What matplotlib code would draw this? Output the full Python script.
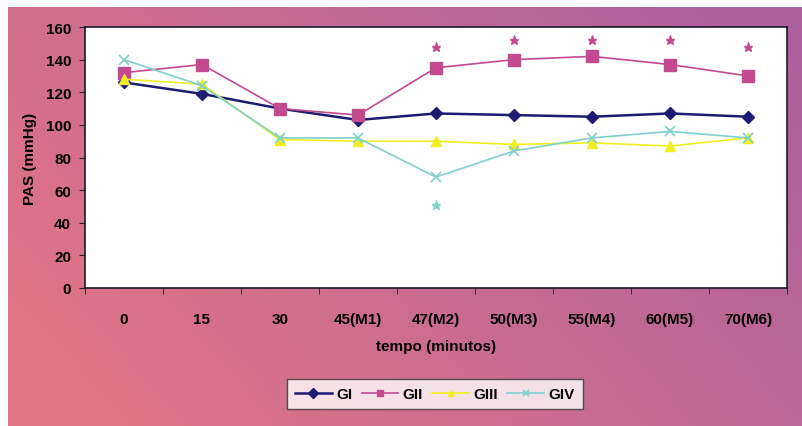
import numpy as np
import matplotlib
matplotlib.use("Agg")
import matplotlib.pyplot as plt
from matplotlib.ticker import FixedLocator

plt.rcParams['font.family'] = ['Liberation Sans', 'DejaVu Sans']
plt.rcParams['font.weight'] = 'bold'

# dados
tempos = ["0", "15", "30", "45(M1)", "47(M2)", "50(M3)", "55(M4)", "60(M5)", "70(M6)"]
GI = [126, 119, 110, 103, 107, 106, 105, 107, 105]
GII = [132, 137, 110, 106, 135, 140, 142, 137, 130]
GIII = [128, 125, 91, 90, 90, 88, 89, 87, 92]
GIV = [140, 124, 92, 92, 68, 84, 92, 96, 92]

# asteriscos de significancia (indice do tempo, altura)
ast_GII_idx = [4, 5, 6, 7, 8]
ast_GII_val = [148, 152, 152, 152, 148]
ast_GIV_idx = [4]
ast_GIV_val = [51]

c_GI = "#1c1c72"
c_GII = "#c44a90"
c_GIII = "#eeee22"
c_GIV = "#7fd0cc"

fig = plt.figure(figsize=(8.03, 4.27), dpi=100)

# fundo em degrade rosa -> lilas
bg = fig.add_axes([8/803, 0, 1 - 8/803, 1 - 8/427], zorder=-10)
gx, gy = np.meshgrid(np.linspace(0, 1, 200), np.linspace(0, 1, 100))
t = np.clip(0.75*gx + 0.35*(1 - gy) - 0.05, 0, 1)
c0 = np.array([0.89, 0.46, 0.52])
c1 = np.array([0.68, 0.38, 0.62])
img = c0[None, None, :]*(1 - t[..., None]) + c1[None, None, :]*t[..., None]
bg.imshow(img, aspect='auto', extent=[0, 1, 0, 1], origin='upper')
bg.axis('off')

ax = fig.add_axes([85/803, 1 - 289/427, 702/803, 261/427])
ax.set_facecolor("white")
x = np.arange(len(tempos))

ax.plot(x, GI, color=c_GI, marker='D', ms=6.5, lw=1.8, label="GI")
ax.plot(x, GII, color=c_GII, marker='s', ms=8, lw=1.2, label="GII")
ax.plot(x, GIII, color=c_GIII, marker='^', ms=7.5, lw=1.2, label="GIII")
ax.plot(x, GIV, color=c_GIV, marker='x', ms=7.5, mew=1.2, lw=1.2, label="GIV")

ax.plot(ast_GII_idx, ast_GII_val, ls='none', marker='*', ms=6.5, color=c_GII)
ax.plot(ast_GIV_idx, ast_GIV_val, ls='none', marker='*', ms=6.5, color=c_GIV)

ax.set_xlim(-0.5, len(tempos) - 0.5)
ax.set_ylim(0, 160)
ax.set_yticks(np.arange(0, 161, 20))
ax.set_xticks(x)
ax.set_xticklabels(tempos)
ax.xaxis.set_minor_locator(FixedLocator(np.arange(-0.5, len(tempos), 1)))
ax.tick_params(axis='x', which='major', length=0, pad=17, labelsize=11)
ax.tick_params(axis='x', which='minor', length=4, direction='out', color='#222222')
ax.tick_params(axis='y', length=4, direction='out', labelsize=11, pad=6, color='#222222')
for s in ax.spines.values():
    s.set_color('#1a1a2a')
    s.set_linewidth(1.2)

ax.set_ylabel("PAS (mmHg)", fontsize=11, fontweight='bold', labelpad=6)
ax.set_xlabel("tempo (minutos)", fontsize=11, fontweight='bold', labelpad=10)

leg = fig.legend(loc='center', bbox_to_anchor=(435/803, 1 - 395/427), ncol=4,
                 frameon=True, fancybox=False, fontsize=11, handlelength=2.4,
                 handletextpad=0.3, columnspacing=0.6, borderpad=0.5)
leg.get_frame().set_edgecolor('#333333')
leg.get_frame().set_linewidth(1.0)
for h in leg.legend_handles:
    h.set_markersize(5)

fig.savefig("out.png", dpi=100, facecolor='white')
